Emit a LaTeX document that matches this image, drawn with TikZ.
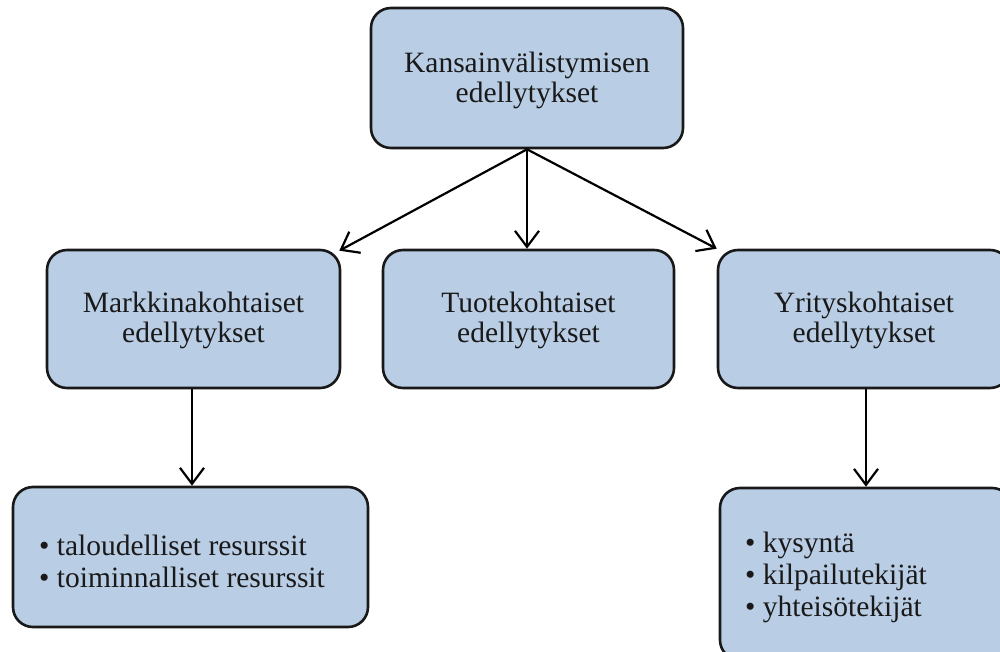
\documentclass[tikz,border=0pt]{standalone}
\usepackage{fontspec}
\setmainfont{Liberation Serif}
\usetikzlibrary{arrows.meta}
\definecolor{boxblue}{HTML}{B9CDE5}
\begin{document}
\begin{tikzpicture}[x=1pt,y=-1pt,
  box/.style={draw=black!90, line width=2.6pt, fill=boxblue, rounded corners=20pt, inner sep=0pt},
  lbl/.style={font=\fontsize{29.5}{30}\selectfont, align=center, inner sep=0pt, text=black!90},
  blist/.style={font=\fontsize{29.5}{32}\selectfont, align=left, inner sep=0pt, text=black!90, anchor=west},
  arr/.style={line width=2.2pt, -{Straight Barb[length=16pt,width=24pt,line width=2.2pt]}}]
\useasboundingbox (0,0) rectangle (1000,652);
\node[box, minimum width=312pt, minimum height=140pt] (top) at (527,78) {};
\node[lbl] (toptxt) at (527,80) {Kansainvälistymisen\\edellytykset};
\node[box, minimum width=293pt, minimum height=138pt] (lm) at (193.5,319) {};
\node[lbl] (lmtxt) at (193.5,320) {Markkinakohtaiset\\edellytykset};
\node[box, minimum width=291pt, minimum height=138pt] (mm) at (528.5,319) {};
\node[lbl] (mmtxt) at (528.5,320) {Tuotekohtaiset\\edellytykset};
\node[box, minimum width=292pt, minimum height=138pt] (rm) at (864,319) {};
\node[lbl] (rmtxt) at (864,320) {Yrityskohtaiset\\edellytykset};
\node[box, minimum width=355pt, minimum height=140pt] (bl) at (190.5,557) {};
\node[blist] (bltxt) at (39,561) {• taloudelliset resurssit\\• toiminnalliset resurssit};
\node[box, minimum width=292pt, minimum height=172pt] (br) at (866,574) {};
\node[blist] (brtxt) at (745,577) {• kysyntä\\• kilpailutekijät\\• yhteisötekijät};
\draw[arr] (top.south) -- ([xshift=-2pt,yshift=-2pt]lm.north east);
\draw[arr] (top.south) -- (top.south |- mm.north);
\draw[arr] (top.south) -- (rm.north west);
\draw[arr] ([xshift=-1.5pt]lm.south) -- ([xshift=-1.5pt]lm.south |- bl.north);
\draw[arr] (br.north |- rm.south) -- (br.north);
\end{tikzpicture}
\end{document}
